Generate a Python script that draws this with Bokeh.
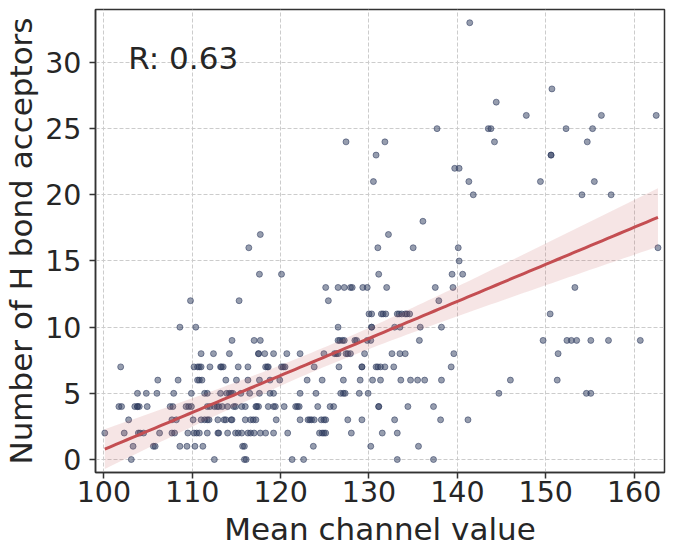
import numpy as np
from bokeh.plotting import figure
from bokeh.models import Range1d, FixedTicker, Label, ColumnDataSource
from bokeh.embed import file_html
from bokeh.resources import INLINE

# Observed points, grouped by number of H bond acceptors (y) -> mean channel values (x)
rows = {
    0: [103.1, 112.5, 115.9, 116.1, 121.3, 122.6, 133.2, 137.3],
    1: [103.3, 105.6, 105.8, 108.6, 109.4, 110.3, 111.2, 115.7, 115.9, 123.7, 130.2, 135.6],
    2: [100.1, 102.3, 103.9, 104.1, 104.5, 106.3, 107.7, 108.0, 109.5, 110.2, 110.5, 110.8,
        111.7, 112.9, 113.0, 114.0, 114.9, 115.2, 115.6, 116.3, 116.6, 117.0, 117.7, 118.3,
        119.2, 120.8, 124.4, 124.7, 124.9, 125.1, 128.0, 131.5, 133.2],
    3: [102.8, 107.7, 108.2, 110.1, 111.0, 111.4, 111.7, 111.9, 112.9, 113.6, 113.8, 114.4,
        114.5, 116.0, 116.6, 116.9, 117.2, 119.5, 122.2, 123.1, 123.3, 123.5, 123.8, 124.6,
        124.9, 125.1, 127.6, 129.2, 132.9, 138.1, 141.2],
    4: [101.7, 102.0, 103.5, 103.8, 103.8, 104.0, 104.9, 107.5, 107.8, 109.3, 109.6, 109.9,
        111.7, 112.0, 112.5, 112.8, 113.0, 113.4, 114.0, 114.7, 114.9, 115.6, 116.0, 117.2,
        117.3, 117.5, 118.6, 119.2, 119.4, 120.4, 121.7, 121.9, 122.1, 124.2, 125.6, 126.0,
        131.1, 131.1, 134.4, 137.3],
    5: [103.8, 104.8, 106.0, 107.9, 109.9, 111.4, 111.7, 113.2, 113.9, 114.2, 114.4, 114.6,
        115.5, 116.5, 117.6, 118.8, 119.2, 122.2, 124.0, 126.8, 127.1, 127.3, 128.9, 129.9,
        144.7, 154.6, 155.1],
    6: [106.1, 108.4, 110.6, 110.8, 111.1, 113.8, 115.0, 116.3, 117.6, 118.8, 119.9, 123.0,
        124.7, 127.1, 129.0, 130.4, 131.3, 133.6, 134.7, 135.5, 136.3, 138.2, 146.0, 151.3],
    7: [101.9, 110.2, 110.6, 110.8, 111.0, 112.0, 113.2, 113.3, 113.5, 115.2, 116.3, 118.3,
        118.5, 118.6, 120.1, 120.3, 120.5, 123.8, 126.6, 129.2, 129.2, 130.8, 131.0, 131.3,
        131.8, 132.8, 139.3],
    8: [111.0, 112.4, 114.2, 117.5, 117.5, 118.2, 119.2, 120.7, 122.2, 124.9, 126.1, 126.3,
        126.5, 127.4, 127.6, 127.9, 129.5, 132.6, 133.5, 134.1, 139.6, 151.4],
    9: [114.5, 117.0, 117.7, 126.5, 126.7, 127.0, 127.2, 128.4, 128.6, 129.8, 130.2, 135.7,
        149.7, 152.4, 152.9, 153.5, 155.1, 157.1, 160.7],
    10: [108.6, 110.4, 126.5, 130.3, 130.3, 132.9, 133.5, 135.8, 138.2],
    11: [130.0, 130.3, 131.4, 131.6, 131.9, 133.2, 133.4, 133.7, 134.1, 134.3, 134.6, 150.5],
    12: [109.8, 115.3, 125.4, 137.9],
    13: [125.1, 126.5, 127.2, 127.9, 128.1, 129.3, 129.8, 132.0, 137.5, 139.5, 153.3],
    14: [117.6, 120.1, 131.1, 139.4, 140.6],
    15: [140.2],
    16: [116.4, 131.0, 135.0, 140.1, 162.7],
    17: [117.7, 132.2],
    18: [136.1],
    20: [141.8, 154.1, 157.4],
    21: [130.5, 141.3, 149.4, 155.5],
    22: [139.7, 140.2],
    23: [130.8, 150.6, 150.6],
    24: [127.4, 131.8, 144.2, 154.7],
    25: [137.7, 143.5, 143.8, 152.3, 155.3],
    26: [147.8, 156.3, 162.5],
    27: [144.4],
    28: [150.7],
    33: [141.4],
}

x_ticks = [100, 110, 120, 130, 140, 150, 160]
y_ticks = [0, 5, 10, 15, 20, 25, 30]
r_text = "R: 0.63"

xs, ys = [], []
for yv, xl in rows.items():
    for xv in xl:
        xs.append(xv)
        ys.append(yv)
xs = np.array(xs, dtype=float)
ys = np.array(ys, dtype=float)

# linear regression with confidence band
n = len(xs)
slope, intercept = np.polyfit(xs, ys, 1)
resid = ys - (slope * xs + intercept)
s = np.sqrt(np.sum(resid ** 2) / (n - 2))
xbar = xs.mean()
sxx = np.sum((xs - xbar) ** 2)
grid_x = np.linspace(xs.min(), xs.max(), 100)
fit = slope * grid_x + intercept
half = 2.7 * s * np.sqrt(1.0 / n + (grid_x - xbar) ** 2 / sxx)

p = figure(width=668, height=550, output_backend="svg", toolbar_location=None,
           x_range=Range1d(99.05, 163.44), y_range=Range1d(-0.98, 34.0),
           min_border_left=89, min_border_right=4, min_border_top=9, min_border_bottom=78)
p.background_fill_color = "white"
p.border_fill_color = "white"
p.outline_line_color = "#333333"
p.outline_line_width = 1.5

for g in (p.xgrid, p.ygrid):
    g.grid_line_color = "#cccccc"
    g.grid_line_dash = "4 2"
    g.grid_line_width = 1

p.xaxis.ticker = FixedTicker(ticks=x_ticks)
p.yaxis.ticker = FixedTicker(ticks=y_ticks)
for ax in (p.xaxis, p.yaxis):
    ax.axis_line_color = "#333333"
    ax.axis_line_width = 1.5
    ax.major_tick_line_color = "#333333"
    ax.major_tick_line_width = 1.5
    ax.major_tick_out = 6
    ax.major_tick_in = 0
    ax.minor_tick_line_color = None
    ax.major_label_text_font = "DejaVu Sans"
    ax.major_label_text_font_size = "28.5px"
    ax.major_label_text_color = "#262626"
    ax.axis_label_text_font = "DejaVu Sans"
    ax.axis_label_text_font_size = "31px"
    ax.axis_label_text_font_style = "normal"
    ax.axis_label_text_color = "#262626"
p.xaxis.axis_label = "Mean channel value"
p.yaxis.axis_label = "Number of H bond acceptors"
p.xaxis.major_label_standoff = 2
p.yaxis.major_label_standoff = 8
p.xaxis.axis_label_standoff = 6
p.yaxis.axis_label_standoff = 3

p.scatter(xs, ys, size=6, fill_color="#2e3b5e", fill_alpha=0.5,
          line_color="#2e3b5e", line_alpha=0.55, line_width=1)

band = ColumnDataSource(dict(x=grid_x, lo=fit - half, hi=fit + half))
p.varea(x="x", y1="lo", y2="hi", source=band, fill_color="#c44e52", fill_alpha=0.15)
p.line(grid_x, fit, line_color="#c44e52", line_width=3)

p.add_layout(Label(x=102.75, y=30.35, text=r_text, text_font="DejaVu Sans",
                   text_font_size="31px", text_color="#262626", text_baseline="alphabetic"))

open("out.html", "w").write(file_html(p, INLINE))
